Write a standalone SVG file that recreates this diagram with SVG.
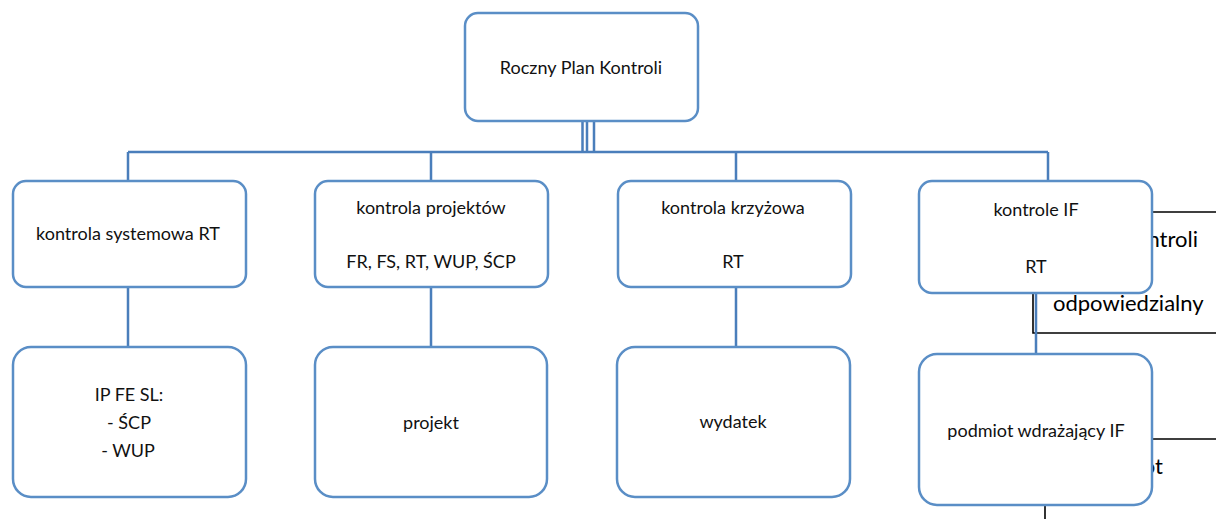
<svg xmlns="http://www.w3.org/2000/svg" width="1216" height="519" viewBox="0 0 1216 519">
<style>
.box{fill:#fff;stroke:#5a8ec6;stroke-width:2.5}
.con{fill:none;stroke:#4a7ebb;stroke-width:2.5}
.blk{fill:none;stroke:#000;stroke-width:1.6}
text{font-family:Lato,"Open Sans","Liberation Sans",sans-serif;font-size:18px;fill:#111;text-anchor:middle}
.big{font-size:22px;text-anchor:start;fill:#000}
</style>
<rect width="1216" height="519" fill="#fff"/>
<g id="background-fragments">
<path class="blk" d="M1152 212H1216M1033 293V333H1216M1152 439H1216M1045 506V519"/>
<text class="big" x="1198" y="247" style="text-anchor:end">ntroli</text>
<text class="big" x="1053" y="311">odpowiedzialny</text>
<text class="big" x="1163" y="474" style="text-anchor:end">ot</text>
</g>
<g id="connectors">
<path class="con" d="M582.5 121V152M587 121V152M594 121V152"/>
<path class="con" d="M128 152H1048M128 152V181M431 152V181M736 152V181M1048 152V181"/>
<path class="con" d="M128 287V347M431 287V347M736 287V347M1036 294V354"/>
</g>
<g id="n-root"><rect class="box" x="465" y="13" width="233" height="108" rx="13"/><text x="581" y="74">Roczny Plan Kontroli</text></g>
<g id="n-sys"><rect class="box" x="13" y="181" width="233" height="106" rx="13"/><text x="128" y="240">kontrola systemowa RT</text></g>
<g id="n-proj"><rect class="box" x="315" y="181" width="233" height="106" rx="13"/><text x="431" y="214">kontrola projektów</text><text x="431" y="268">FR, FS, RT, WUP, ŚCP</text></g>
<g id="n-krzyz"><rect class="box" x="618" y="181" width="233" height="106" rx="13"/><text x="733" y="214">kontrola krzyżowa</text><text x="733" y="268">RT</text></g>
<g id="n-if"><rect class="box" x="919" y="181" width="233" height="112" rx="13"/><text x="1036" y="216">kontrole IF</text><text x="1036" y="273">RT</text></g>
<g id="n-ipfe"><rect class="box" x="13" y="347" width="233" height="150" rx="18"/><text x="129" y="401">IP FE SL:</text><text x="129" y="429">- ŚCP</text><text x="128" y="457">- WUP</text></g>
<g id="n-projekt"><rect class="box" x="315" y="347" width="232" height="150" rx="18"/><text x="431" y="429">projekt</text></g>
<g id="n-wydatek"><rect class="box" x="617" y="347" width="233" height="150" rx="18"/><text x="733" y="428">wydatek</text></g>
<g id="n-podmiot"><rect class="box" x="919" y="354" width="233" height="151" rx="18"/><text x="1036" y="437">podmiot wdrażający IF</text></g>
</svg>
